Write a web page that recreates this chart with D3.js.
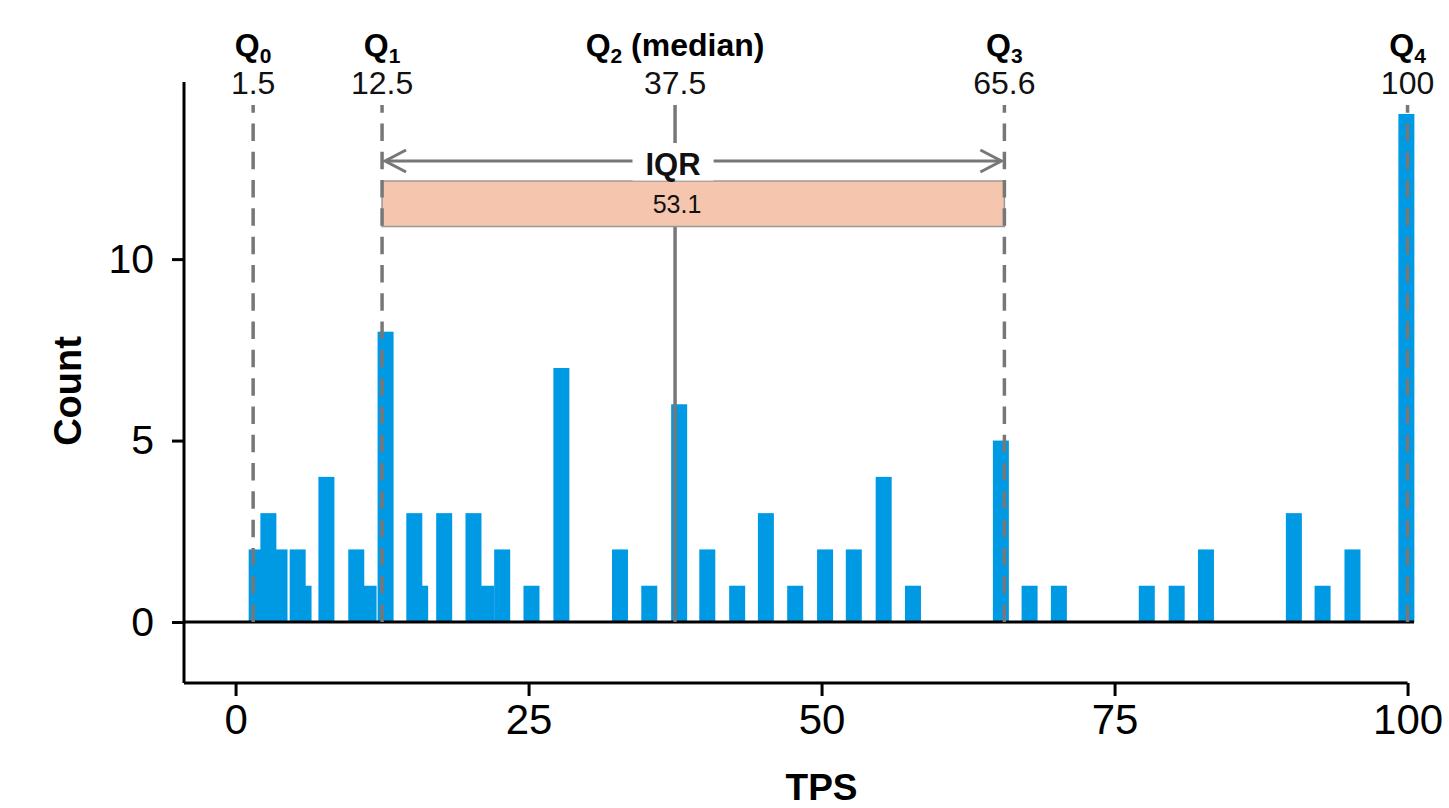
<!DOCTYPE html>
<html>
<head>
<meta charset="utf-8">
<script src="https://cdn.jsdelivr.net/npm/d3@7"></script>
<style>
  html, body { margin: 0; padding: 0; background: #fff; }
  svg { display: block; font-family: "Liberation Sans", Arial, Helvetica, sans-serif; }
</style>
</head>
<body>
<svg id="chart" width="1449" height="808"></svg>
<script>
// ---- data ----
const tpsValues = [1.8, 2.8, 3.75, 5.3, 5.8, 7.75, 10.3, 11.35, 12.8, 15.25, 15.75, 17.8, 20.3, 21.4, 22.75, 25.25, 27.8,
                   32.8, 35.3, 37.85, 40.25, 42.8, 45.25, 47.75, 50.3, 52.75, 55.3, 57.8, 65.3, 67.75, 70.25,
                   77.75, 80.3, 82.8, 90.3, 92.75, 95.3, 99.9];
const counts    = [2, 3, 2, 2, 1, 4, 2, 1, 8, 3, 1, 3, 3, 1, 2, 1, 7,
                   2, 1, 6, 2, 1, 3, 1, 2, 2, 4, 1, 5, 1, 1,
                   1, 1, 2, 3, 1, 2, 14];
const quantNames  = ["Q", "Q", "Q", "Q", "Q"];
const quantSubs   = ["0", "1", "2", "3", "4"];
const quantSuffix = ["", "", " (median)", "", ""];
const quantValues = [1.5, 12.5, 37.5, 65.6, 100];
const quantLabels = ["1.5", "12.5", "37.5", "65.6", "100"];
const iqrValue = "53.1";
const xTicks = [0, 25, 50, 75, 100];
const yTicks = [0, 5, 10];
const xLabel = "TPS";
const yLabel = "Count";

// ---- layout ----
const svg = d3.select("#chart");
const x = d3.scaleLinear().domain([-4.4, 100.55]).range([184, 1414]);
const y = d3.scaleLinear().domain([-1.68, 14.88]).range([683, 82]);
const barW = 1.365;
const grey = "#777777";
const blue = "#0099e4";

svg.append("rect").attr("width", 1449).attr("height", 808).attr("fill", "#fff");

// bars, drawn in ascending order of count
const bars = tpsValues.map((v, i) => ({ v, c: counts[i], i }))
  .sort((a, b) => a.c - b.c || a.i - b.i);
svg.append("g").selectAll("rect").data(bars).join("rect")
  .attr("x", d => x(d.v - barW / 2))
  .attr("width", d => x(d.v + barW / 2) - x(d.v - barW / 2))
  .attr("y", d => y(d.c))
  .attr("height", d => y(0) - y(d.c))
  .attr("fill", blue);

// zero line
svg.append("line")
  .attr("x1", x(-4.4)).attr("x2", x(100.55))
  .attr("y1", y(0)).attr("y2", y(0))
  .attr("stroke", "#000").attr("stroke-width", 3);

// axes
const xAxis = d3.axisBottom(x).tickValues(xTicks).tickSize(13).tickPadding(8).tickFormat(d3.format("d"));
const gx = svg.append("g").attr("transform", `translate(0,${y(-1.68)})`).call(xAxis);
gx.select(".domain").remove();
gx.append("line").attr("x1", x(-4.4)).attr("x2", x(100)).attr("stroke", "#000").attr("stroke-width", 3);
gx.selectAll(".tick line").attr("stroke", "#000").attr("stroke-width", 3);
gx.selectAll(".tick text").attr("font-size", 42).attr("fill", "#000")
  .attr("font-family", "'Liberation Sans', Arial, sans-serif");

const yAxis = d3.axisLeft(y).tickValues(yTicks).tickSize(12).tickPadding(18).tickFormat(d3.format("d"));
const gy = svg.append("g").attr("transform", `translate(${x(-4.4)},0)`).call(yAxis);
gy.select(".domain").remove();
gy.append("line").attr("y1", y(-1.68)).attr("y2", y(14.88)).attr("stroke", "#000").attr("stroke-width", 3);
gy.selectAll(".tick line").attr("stroke", "#000").attr("stroke-width", 3);
gy.selectAll(".tick text").attr("font-size", 41).attr("fill", "#000")
  .attr("font-family", "'Liberation Sans', Arial, sans-serif");

// axis labels
svg.append("text").attr("x", x(50)).attr("y", 800).attr("text-anchor", "middle")
  .attr("font-size", 37).attr("font-weight", "bold").text(xLabel);
svg.append("text").attr("transform", `translate(81,391) rotate(-90)`).attr("text-anchor", "middle")
  .attr("font-size", 38).attr("font-weight", "bold").text(yLabel);

// median line (under box)
const lineTop = 105;
svg.append("line")
  .attr("x1", x(quantValues[2])).attr("x2", x(quantValues[2]))
  .attr("y1", y(0)).attr("y2", lineTop)
  .attr("stroke", grey).attr("stroke-width", 3.5);

// IQR box
const boxTop = 181, boxBot = 226.5;
svg.append("rect")
  .attr("x", x(quantValues[1])).attr("width", x(quantValues[3]) - x(quantValues[1]))
  .attr("y", boxTop).attr("height", boxBot - boxTop)
  .attr("fill", "#f5c6ad").attr("stroke", "#999").attr("stroke-width", 1.5);
svg.append("text").attr("x", x(quantValues[2]) + 2).attr("y", 213).attr("text-anchor", "middle")
  .attr("font-size", 25).attr("fill", "#111").text(iqrValue);

// dashed quantile lines
[0, 1, 3, 4].forEach(i => {
  svg.append("line")
    .attr("x1", x(quantValues[i])).attr("x2", x(quantValues[i]))
    .attr("y1", y(0)).attr("y2", lineTop)
    .attr("stroke", grey).attr("stroke-width", 3.5)
    .attr("stroke-dasharray", "17.5,10.8");
});

// IQR arrow
const arrowY = 161;
const ax1 = x(quantValues[1]) + 3, ax2 = x(quantValues[3]) - 3;
svg.append("line").attr("x1", ax1).attr("x2", ax2).attr("y1", arrowY).attr("y2", arrowY)
  .attr("stroke", grey).attr("stroke-width", 3);
svg.append("path")
  .attr("d", `M${ax1 + 21},${arrowY - 11} L${ax1},${arrowY} L${ax1 + 21},${arrowY + 11}` +
             `M${ax2 - 21},${arrowY - 11} L${ax2},${arrowY} L${ax2 - 21},${arrowY + 11}`)
  .attr("fill", "none").attr("stroke", grey).attr("stroke-width", 3);

// IQR label with white background
const iqrG = svg.append("g");
const iqrBg = iqrG.append("rect").attr("fill", "#fff");
const iqrT = iqrG.append("text").attr("x", x(quantValues[2]) - 2).attr("y", 175).attr("text-anchor", "middle")
  .attr("font-size", 31).attr("font-weight", "bold").attr("fill", "#111").text("IQR");
const bb = iqrT.node().getBBox();
iqrBg.attr("x", bb.x - 13).attr("width", bb.width + 26).attr("y", 143).attr("height", boxTop - 143 - 0.5);

// quantile labels at top
quantValues.forEach((v, i) => {
  const t = svg.append("text").attr("x", x(v)).attr("y", 56).attr("text-anchor", "middle")
    .attr("font-size", 32).attr("font-weight", "bold").attr("fill", "#000");
  t.append("tspan").text(quantNames[i]);
  t.append("tspan").attr("font-size", 21).attr("dy", 7).text(quantSubs[i]);
  if (quantSuffix[i]) t.append("tspan").attr("dy", -7).text(quantSuffix[i]);
  svg.append("text").attr("x", x(v)).attr("y", 94).attr("text-anchor", "middle")
    .attr("font-size", 32).attr("fill", "#111").text(quantLabels[i]);
});
</script>
</body>
</html>
